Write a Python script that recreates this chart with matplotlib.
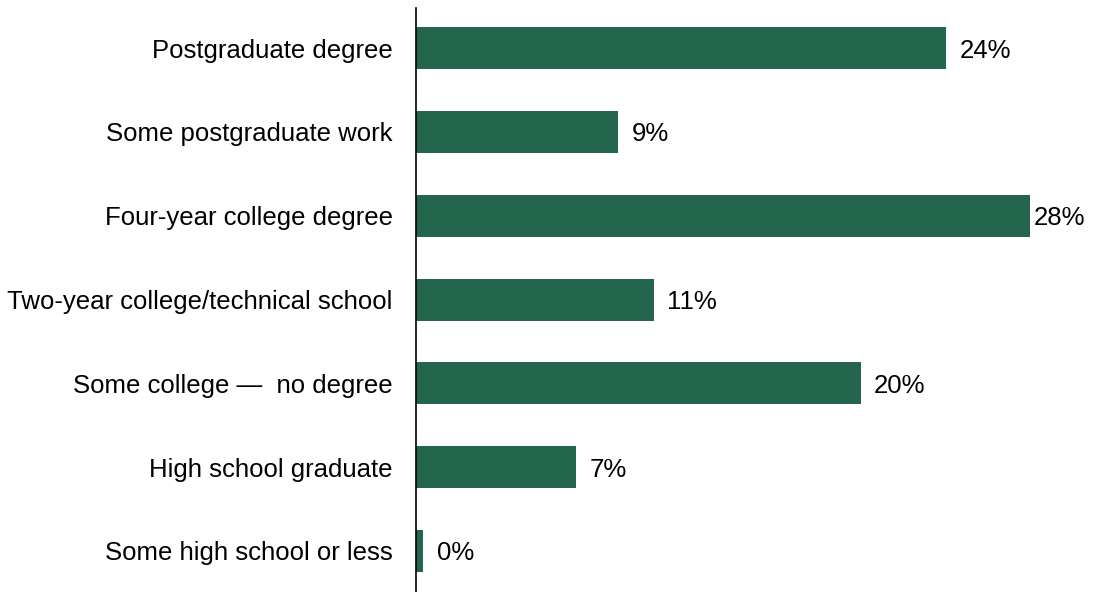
import matplotlib.pyplot as plt

plt.rcParams['font.family'] = ['Liberation Sans', 'DejaVu Sans']

# Education level shares (%)
categories = [
    "Postgraduate degree",
    "Some postgraduate work",
    "Four-year college degree",
    "Two-year college/technical school",
    "Some college \u2014  no degree",
    "High school graduate",
    "Some high school or less",
]
values = [24.1, 9.2, 27.9, 10.8, 20.2, 7.3, 0.35]
labels = ["24%", "9%", "28%", "11%", "20%", "7%", "0%"]

bar_color = "#23664D"

fig = plt.figure(figsize=(10.94, 5.92), dpi=100)
ax = fig.add_axes([0.380, 0.0, 0.620, 0.9865])

ypos = list(range(len(categories)))
ax.barh(ypos, values, height=0.5, color=bar_color)

xmax = 30.8
ax.set_xlim(0, xmax)
ax.set_ylim(6.49, -0.48)

# value labels to the right of the bars, kept inside the figure
for y, v, lab in zip(ypos, values, labels):
    x = min(v + 0.6, xmax - 2.75)
    ax.text(x, y, lab, va="center_baseline", ha="left", fontsize=18.5, color="black")

ax.set_yticks(ypos)
ax.set_yticklabels(categories, fontsize=18.5, va="center_baseline")
ax.tick_params(axis="y", length=0, pad=16.5)
ax.set_xticks([])

for side in ["top", "right", "bottom"]:
    ax.spines[side].set_visible(False)
ax.spines["left"].set_linewidth(1.2)
ax.spines["left"].set_color("black")

fig.savefig("out.png", dpi=100)
